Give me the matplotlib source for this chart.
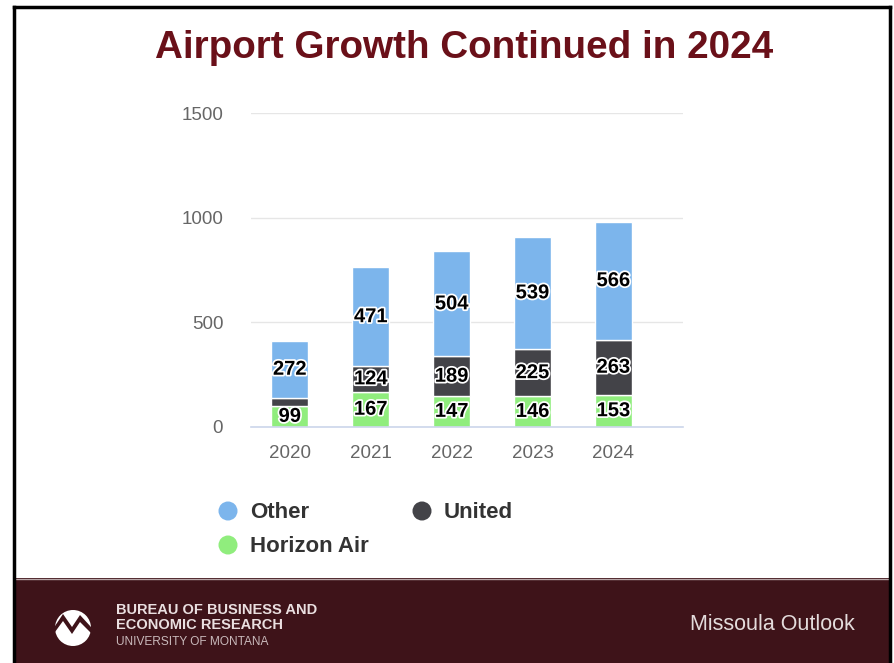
import matplotlib
matplotlib.use("Agg")
import matplotlib.pyplot as plt
import matplotlib.patheffects as pe
from matplotlib.patches import Rectangle, Circle, Polygon
import numpy as np

plt.rcParams['font.family'] = ['Liberation Sans', 'DejaVu Sans']

# ---- data ----
years = ["2020", "2021", "2022", "2023", "2024"]
horizon_air = [99, 167, 147, 146, 153]
united = [40, 124, 189, 225, 263]
other = [272, 471, 504, 539, 566]
series_names = ["Other", "United", "Horizon Air"]
series_colors = ["#7cb5ec", "#434348", "#90ed7d"]
y_ticks = [0, 500, 1000, 1500]

W, H = 895, 663
fig = plt.figure(figsize=(W / 100, H / 100), dpi=100)
fig.patch.set_facecolor("white")

def fx(px):
    return px / W

def fy(py):
    return 1 - py / H

# background overlay axes
bg = fig.add_axes([0, 0, 1, 1])
bg.set_xlim(0, W)
bg.set_ylim(H, 0)
bg.axis("off")

# footer band
bg.add_patch(Rectangle((15, 578), 874, 90, facecolor="#3e1319", edgecolor="none", zorder=1))
bg.plot([15, 889], [578.5, 578.5], color="#b8a5a7", lw=1, zorder=2)
# frame
bg.plot([14, 14], [H, 7], color="black", lw=2.5, zorder=3, solid_capstyle="projecting")
bg.plot([14, 890.5], [7, 7], color="black", lw=2.5, zorder=3, solid_capstyle="projecting")
bg.plot([890.5, 890.5], [7, H], color="black", lw=2.5, zorder=3, solid_capstyle="projecting")

# title
bg.text(464, 48, "Airport Growth Continued in 2024", ha="center", va="center",
        fontsize=27.8, fontweight="bold", color="#6a1019", zorder=4)

# logo
bg.add_patch(Circle((73, 628), 18, facecolor="white", edgecolor="none", zorder=4))
bg.add_patch(Polygon([(55, 626), (63, 614), (72, 627), (80, 615), (91, 627),
                      (91, 633), (80, 622), (72, 634), (63, 621), (55, 632)],
                     closed=True, facecolor="#3e1319", edgecolor="none", zorder=5))
bg.text(116, 610, "BUREAU OF BUSINESS AND", ha="left", va="center",
        fontsize=10.5, fontweight="bold", color="#eadfe0", zorder=4)
bg.text(116, 625, "ECONOMIC RESEARCH", ha="left", va="center",
        fontsize=10.5, fontweight="bold", color="#eadfe0", zorder=4)
bg.text(116, 642, "UNIVERSITY OF MONTANA", ha="left", va="center",
        fontsize=8.6, color="#c9b9bb", zorder=4)
bg.text(690, 624, "Missoula Outlook", ha="left", va="center",
        fontsize=15.5, color="#e4dcdc", zorder=4)

# legend
leg_items = [(228, 511, 0), (422, 511, 1), (228, 545, 2)]
for x, y, i in leg_items:
    bg.add_patch(Circle((x, y), 9.5, facecolor=series_colors[i], edgecolor="none", zorder=4))
    bg.text(x + 22, y + 1, series_names[i], ha="left", va="center",
            fontsize=16, fontweight="bold", color="#333333", zorder=4)

# chart axes
left, right, top, bottom = 251, 683, 113.3, 426.7
ax = fig.add_axes([fx(left), fy(bottom), fx(right - left), (bottom - top) / H])
ax.set_facecolor("none")
x = np.arange(len(years))
bw = 0.46
h = np.array(horizon_air)
u = np.array(united)
o = np.array(other)
ax.bar(x, h, bw, color=series_colors[2], edgecolor="white", linewidth=1, zorder=3)
ax.bar(x, u, bw, bottom=h, color=series_colors[1], edgecolor="white", linewidth=1, zorder=3)
ax.bar(x, o, bw, bottom=h + u, color=series_colors[0], edgecolor="white", linewidth=1, zorder=3)

stroke = [pe.withStroke(linewidth=2.5, foreground="white")]
for i in range(len(years)):
    for val, base in ((h[i], 0), (u[i], h[i]), (o[i], h[i] + u[i])):
        if val < 60:
            continue
        ax.text(x[i], base + val / 2, str(val), ha="center", va="center",
                fontsize=14.5, fontweight="bold", color="black",
                path_effects=stroke, zorder=5)

ax.set_xlim(-0.48, len(years) - 1 + 0.86)
ax.set_ylim(0, 1500)
ax.set_yticks(y_ticks)
ax.set_yticklabels([str(t) for t in y_ticks])
ax.set_xticks(x)
ax.set_xticklabels(years)
ax.tick_params(axis="both", length=0, labelsize=13.5, labelcolor="#666666")
ax.tick_params(axis="y", pad=20)
ax.tick_params(axis="x", pad=13)
ax.grid(axis="y", color="#e6e6e6", linewidth=1, zorder=0)
for s in ("top", "right", "left"):
    ax.spines[s].set_visible(False)
ax.spines["bottom"].set_color("#ccd6eb")
ax.spines["bottom"].set_linewidth(1.2)
ax.spines["bottom"].set_zorder(4)

fig.savefig("out.png", dpi=100, facecolor="white")
